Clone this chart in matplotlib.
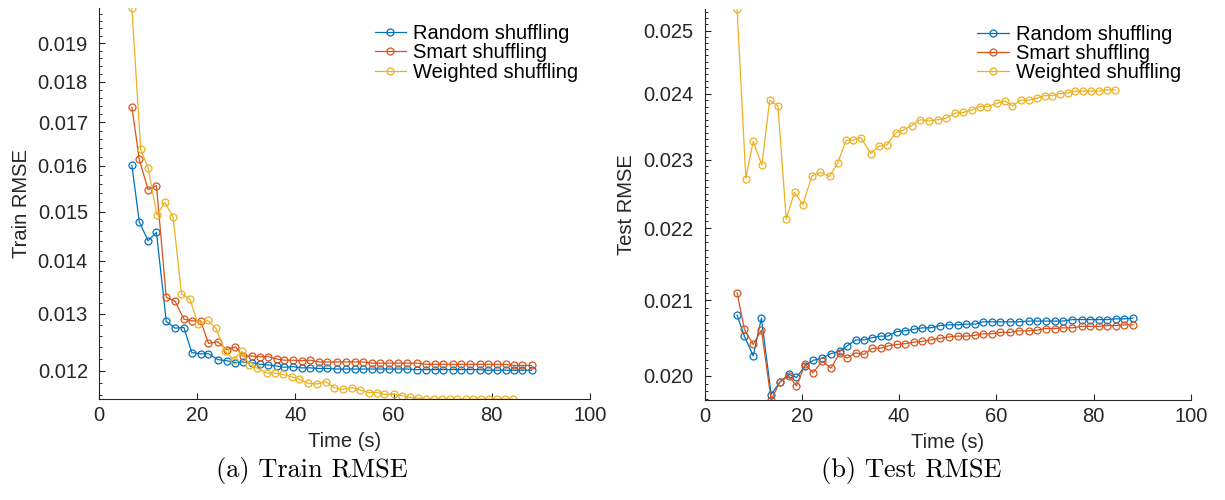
import numpy as np
import matplotlib
matplotlib.use("Agg")
from matplotlib import pyplot as plt
from matplotlib.ticker import FixedLocator, NullFormatter


plt.rcParams['font.family'] = ['Liberation Sans', 'DejaVu Sans']

# Time stamps (s) of each epoch
t_rand = [6.7, 8.2, 10.0, 11.7, 13.7, 15.5, 17.3, 18.9, 20.7, 22.3, 24.2, 26.0,
          27.8, 29.3, 31.1, 32.8, 34.5, 36.2, 37.7, 39.5, 41.3, 43.0, 44.8, 46.5,
          48.4, 50.3, 52.1, 53.8, 55.7, 57.2, 59.1, 60.8, 62.7, 64.7, 66.6, 68.4,
          70.1, 72.0, 73.7, 75.6, 77.5, 79.2, 81.0, 82.8, 84.5, 86.2, 88.1]
t_smart = t_rand
t_weight = [6.7, 8.5, 10.0, 11.8, 13.4, 15.1, 16.8, 18.5, 20.2, 22.1, 23.8, 25.7,
            27.4, 29.1, 30.6, 32.1, 34.2, 35.9, 37.5, 39.3, 40.8, 42.6, 44.3, 46.2,
            47.9, 49.6, 51.5, 53.2, 54.9, 56.6, 58.1, 60.1, 61.8, 63.3, 65.0, 66.6,
            68.3, 69.9, 71.5, 73.0, 74.7, 76.2, 77.7, 79.4, 81.0, 82.7, 84.4]

# Train RMSE
train_rand = [0.01601, 0.01479, 0.01440, 0.01457, 0.01286, 0.01274, 0.01275, 0.01231,
              0.01229, 0.01229, 0.01219, 0.01217, 0.01214, 0.01215, 0.01214, 0.01211,
              0.01210, 0.01208, 0.01206, 0.01207, 0.01205, 0.01205, 0.01204, 0.01204,
              0.01203, 0.01203, 0.01203, 0.01203, 0.01203, 0.01203, 0.01203, 0.01203,
              0.01203, 0.01202, 0.01202, 0.01202, 0.01202, 0.01202, 0.01202, 0.01202,
              0.01202, 0.01201, 0.01201, 0.01201, 0.01201, 0.01201, 0.01201]
train_smart = [0.01737, 0.01614, 0.01547, 0.01556, 0.01330, 0.01323, 0.01290, 0.01287,
               0.01287, 0.01247, 0.01250, 0.01236, 0.01241, 0.01225, 0.01225, 0.01224,
               0.01224, 0.01220, 0.01218, 0.01218, 0.01217, 0.01218, 0.01215, 0.01215,
               0.01215, 0.01215, 0.01215, 0.01215, 0.01213, 0.01213, 0.01213, 0.01213,
               0.01213, 0.01213, 0.01211, 0.01211, 0.01211, 0.01211, 0.01211, 0.01211,
               0.01211, 0.01211, 0.01211, 0.01211, 0.01209, 0.01209, 0.01209]
train_weight = [0.01995, 0.01637, 0.01595, 0.01493, 0.01520, 0.01488, 0.01337, 0.01327,
                0.01281, 0.01288, 0.01274, 0.01233, 0.01219, 0.01233, 0.01210, 0.01205,
                0.01196, 0.01196, 0.01194, 0.01190, 0.01186, 0.01179, 0.01178, 0.01182,
                0.01172, 0.01169, 0.01172, 0.01168, 0.01164, 0.01164, 0.01161, 0.01161,
                0.01159, 0.01156, 0.01155, 0.01153, 0.01153, 0.01153, 0.01153, 0.01153,
                0.01153, 0.01153, 0.01153, 0.01153, 0.01153, 0.01153, 0.01153]

# Test RMSE
test_rand = [0.02080, 0.02052, 0.02026, 0.02076, 0.01976, 0.01992, 0.02002, 0.01998,
             0.02013, 0.02020, 0.02023, 0.02029, 0.02032, 0.02039, 0.02047, 0.02047,
             0.02050, 0.02052, 0.02052, 0.02058, 0.02059, 0.02061, 0.02063, 0.02063,
             0.02066, 0.02067, 0.02067, 0.02068, 0.02068, 0.02071, 0.02071, 0.02071,
             0.02071, 0.02071, 0.02072, 0.02072, 0.02072, 0.02072, 0.02072, 0.02074,
             0.02074, 0.02074, 0.02074, 0.02074, 0.02075, 0.02075, 0.02076]
test_smart = [0.02110, 0.02061, 0.02041, 0.02060, 0.01969, 0.01992, 0.02000, 0.01987,
              0.02015, 0.02004, 0.02019, 0.02010, 0.02030, 0.02023, 0.02030, 0.02028,
              0.02036, 0.02036, 0.02039, 0.02041, 0.02042, 0.02044, 0.02045, 0.02047,
              0.02049, 0.02051, 0.02052, 0.02052, 0.02053, 0.02055, 0.02055, 0.02057,
              0.02057, 0.02059, 0.02059, 0.02060, 0.02062, 0.02062, 0.02063, 0.02063,
              0.02065, 0.02065, 0.02065, 0.02066, 0.02066, 0.02067, 0.02067]
test_weight = [0.02535, 0.02272, 0.02327, 0.02292, 0.02390, 0.02381, 0.02213, 0.02252,
               0.02234, 0.02276, 0.02281, 0.02275, 0.02295, 0.02329, 0.02329, 0.02333,
               0.02309, 0.02320, 0.02322, 0.02340, 0.02344, 0.02351, 0.02360, 0.02358,
               0.02360, 0.02362, 0.02370, 0.02371, 0.02375, 0.02380, 0.02380, 0.02385,
               0.02389, 0.02381, 0.02390, 0.02390, 0.02393, 0.02397, 0.02397, 0.02400,
               0.02401, 0.02404, 0.02404, 0.02404, 0.02404, 0.02406, 0.02406]

labels = ["Random shuffling", "Smart shuffling", "Weighted shuffling"]
colors = ["#0072BD", "#D95319", "#EDB120"]
train_ticks = [0.012, 0.013, 0.014, 0.015, 0.016, 0.017, 0.018, 0.019]
test_ticks = [0.020, 0.021, 0.022, 0.023, 0.024, 0.025]

axcol = "#262626"
fs = 14.5

fig = plt.figure(figsize=(12.25, 5.0), dpi=100)
ax1 = fig.add_axes([99 / 1225, 1 - 399.3 / 500, 491 / 1225, 391 / 500])
ax2 = fig.add_axes([704.5 / 1225, 1 - 400 / 500, 486.5 / 1225, 391 / 500])


def draw_panel(ax, series, ylabel, ticks, minor_step, leg_x):
    for (t, y), lab, c in zip(series, labels, colors):
        ax.plot(t, y, '-o', color=c, label=lab, lw=0.9, ms=5, mfc='none', mew=0.9)
    ax.set_yscale('log')
    allv = np.concatenate([s[1] for s in series])
    ax.set_ylim(allv.min(), allv.max())
    ax.set_xlim(0, 100)
    ax.set_xticks([0, 20, 40, 60, 80, 100])
    ax.yaxis.set_major_locator(FixedLocator(ticks))
    ax.set_yticklabels(["%.3f" % v for v in ticks])
    lo = ticks[0] - 5 * minor_step
    hi = ticks[-1] + 5 * minor_step
    ax.yaxis.set_minor_locator(FixedLocator(np.arange(lo, hi, minor_step)))
    ax.yaxis.set_minor_formatter(NullFormatter())
    ax.xaxis.set_minor_locator(FixedLocator([]))
    for s in ['top', 'right']:
        ax.spines[s].set_visible(False)
    for s in ['left', 'bottom']:
        ax.spines[s].set_color(axcol)
        ax.spines[s].set_linewidth(0.8)
    ax.tick_params(which='major', direction='in', length=4, width=0.8,
                   color=axcol, labelcolor=axcol, labelsize=fs)
    ax.tick_params(which='minor', direction='in', length=2, width=0.7, color=axcol)
    ax.tick_params(axis='y', pad=8)
    ax.tick_params(axis='x', pad=5)
    ax.set_xlabel("Time (s)", fontsize=fs, color=axcol, labelpad=5)
    ax.set_ylabel(ylabel, fontsize=fs, color=axcol, labelpad=5)
    ax.legend(loc='upper right', bbox_to_anchor=(leg_x, 0.96), frameon=False,
              fontsize=fs, handlelength=1.55, handletextpad=0.35,
              labelspacing=0.02, borderaxespad=0, borderpad=0)


draw_panel(ax1, [(t_rand, train_rand), (t_smart, train_smart), (t_weight, train_weight)],
           "Train RMSE", train_ticks, 0.0002, 0.976)
draw_panel(ax2, [(t_rand, test_rand), (t_smart, test_smart), (t_weight, test_weight)],
           "Test RMSE", test_ticks, 0.0001, 0.979)

fig.text(312 / 1225, 1 - 471 / 500, "(a) Train RMSE", family='cmr10', fontsize=19,
         ha='center', va='center')
fig.text(911 / 1225, 1 - 471 / 500, "(b) Test RMSE", family='cmr10', fontsize=19,
         ha='center', va='center')

fig.savefig("out.png", dpi=100)
